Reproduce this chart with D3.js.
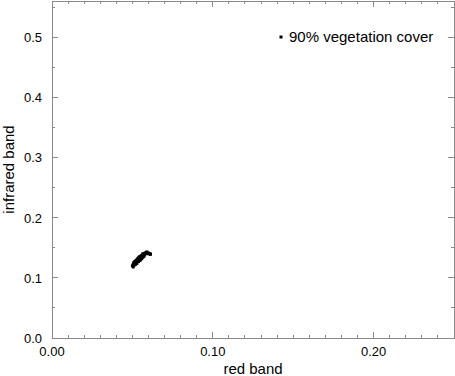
<!DOCTYPE html>
<html>
<head>
<meta charset="utf-8">
<script src="https://cdn.jsdelivr.net/npm/d3@7"></script>
<style>
  body { margin: 0; background: #fff; }
  svg { display: block; font-family: "Liberation Sans", Arial, sans-serif; }
</style>
</head>
<body>
<svg width="455" height="376"></svg>
<script>
// values
const redBand = [0.0500, 0.0505, 0.0510, 0.0512, 0.0515, 0.0520, 0.0522, 0.0525, 0.0530, 0.0532,
                 0.0535, 0.0540, 0.0542, 0.0545, 0.0550, 0.0552, 0.0555, 0.0560, 0.0562, 0.0565,
                 0.0570, 0.0572, 0.0575, 0.0580, 0.0585, 0.0590, 0.0515, 0.0525, 0.0535, 0.0545,
                 0.0555, 0.0565, 0.0505, 0.0548, 0.0508, 0.0520, 0.0530, 0.0540, 0.0552, 0.0562,
                 0.0572, 0.0518, 0.0528, 0.0538, 0.0558, 0.0568,
                 0.0590, 0.0595, 0.0600, 0.0605, 0.0610, 0.0612];
const infraredBand = [0.120, 0.122, 0.121, 0.124, 0.123, 0.125, 0.127, 0.126, 0.128, 0.130,
                      0.129, 0.131, 0.133, 0.132, 0.134, 0.135, 0.133, 0.136, 0.138, 0.137,
                      0.139, 0.140, 0.138, 0.141, 0.142, 0.143, 0.127, 0.129, 0.132, 0.135,
                      0.137, 0.140, 0.118, 0.129, 0.125, 0.128, 0.131, 0.134, 0.131, 0.134,
                      0.136, 0.122, 0.124, 0.127, 0.132, 0.135,
                      0.140, 0.141, 0.141, 0.140, 0.140, 0.139];
const legendLabel = "90% vegetation cover";
const xTicks = [0.00, 0.10, 0.20];
const yTicks = [0.0, 0.1, 0.2, 0.3, 0.4, 0.5];

const svg = d3.select("svg"),
    margin = {top: 1, right: 1, bottom: 38, left: 52},
    width = +svg.attr("width") - margin.left - margin.right,
    height = +svg.attr("height") - margin.top - margin.bottom,
    g = svg.append("g").attr("transform", "translate(" + margin.left + "," + margin.top + ")");

const x = d3.scaleLinear().domain([0, 0.25]).range([0, width]);
const y = d3.scaleLinear().domain([0, 0.56]).range([height, 0]);

const frameColor = "#8a8a8a";
const minorX = d3.range(0, 0.2501, 0.01);
const minorY = d3.range(0, 0.5601, 0.05);
const isMajor = v => Math.abs(v * 10 - Math.round(v * 10)) < 1e-6;

// inward ticks on all four sides
const tk = g.append("g");
minorX.forEach(v => {
  const len = isMajor(v) ? 6 : 3;
  tk.append("line").attr("x1", x(v)).attr("x2", x(v)).attr("y1", height).attr("y2", height - len);
  tk.append("line").attr("x1", x(v)).attr("x2", x(v)).attr("y1", 0).attr("y2", len);
});
minorY.forEach(v => {
  const len = isMajor(v) ? 6 : 3;
  tk.append("line").attr("y1", y(v)).attr("y2", y(v)).attr("x1", 0).attr("x2", len);
  tk.append("line").attr("y1", y(v)).attr("y2", y(v)).attr("x1", width).attr("x2", width - len);
});
tk.selectAll("line").attr("stroke", frameColor).attr("stroke-width", 1).attr("shape-rendering", "crispEdges");

g.append("rect")
    .attr("x", 0).attr("y", 0)
    .attr("width", width).attr("height", height)
    .attr("fill", "none")
    .attr("stroke", frameColor)
    .attr("shape-rendering", "crispEdges");

g.append("g").selectAll("text").data(xTicks).join("text")
    .attr("x", d => x(d))
    .attr("y", height + 18)
    .attr("text-anchor", "middle")
    .attr("font-size", 13)
    .text(d => d.toFixed(2));

g.append("g").selectAll("text").data(yTicks).join("text")
    .attr("x", -10)
    .attr("y", d => y(d) + 5)
    .attr("text-anchor", "end")
    .attr("font-size", 13)
    .text(d => d.toFixed(1));

svg.append("text")
    .attr("x", margin.left + width / 2)
    .attr("y", 374)
    .attr("text-anchor", "middle")
    .attr("font-size", 15)
    .text("red band");

svg.append("text")
    .attr("transform", "translate(14," + (margin.top + height / 2) + ") rotate(-90)")
    .attr("text-anchor", "middle")
    .attr("font-size", 15)
    .text("infrared band");

const pts = redBand.map((r, i) => ({r: r, ir: infraredBand[i]}));
g.append("g").selectAll("rect").data(pts).join("rect")
    .attr("x", d => x(d.r) - 1.5)
    .attr("y", d => y(d.ir) - 1.5)
    .attr("width", 3)
    .attr("height", 3)
    .attr("fill", "#000");

// legend
svg.append("rect")
    .attr("x", 279.5).attr("y", 35.5)
    .attr("width", 3).attr("height", 3)
    .attr("fill", "#000");
svg.append("text")
    .attr("x", 289)
    .attr("y", 42)
    .attr("font-size", 15)
    .text(legendLabel);
</script>
</body>
</html>
